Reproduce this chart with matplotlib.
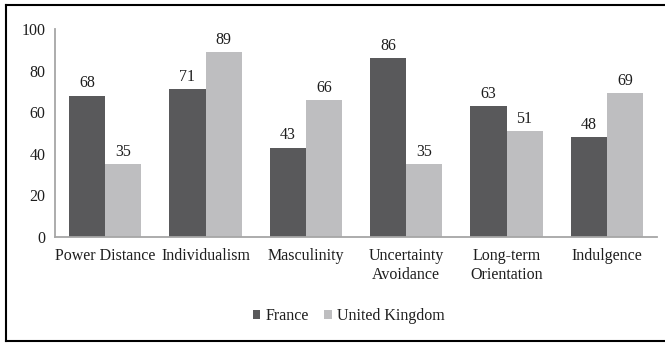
import matplotlib
matplotlib.use("Agg")
import matplotlib.pyplot as plt
from matplotlib.lines import Line2D
import numpy as np

categories = ["Power Distance", "Individualism", "Masculinity",
              "Uncertainty\nAvoidance", "Long-term\nOrientation", "Indulgence"]
france = [68, 71, 43, 86, 63, 48]
uk = [35, 89, 66, 35, 51, 69]
yticks = [0, 20, 40, 60, 80, 100]

plt.rcParams["font.family"] = ["Liberation Serif", "DejaVu Serif"]
fs = 11.5
W, H = 665, 343

fig = plt.figure(figsize=(W / 100, H / 100), dpi=100)
ax = fig.add_axes([55 / W, 1 - 237 / H, (657 - 55) / W, (237 - 29) / H])

x = np.arange(len(categories))
w = 0.36
dark = "#59595b"
light = "#bebec0"
b1 = ax.bar(x - w / 2, france, w, color=dark, label="France")
b2 = ax.bar(x + w / 2, uk, w, color=light, label="United Kingdom")

# value labels above bars
for bars, vals in [(b1, france), (b2, uk)]:
    for r, v in zip(bars, vals):
        ax.annotate(str(v), (r.get_x() + r.get_width() / 2, v),
                    xytext=(0, 3), textcoords="offset points",
                    ha="center", va="bottom", fontsize=fs, color="#1e1e1e")

ax.set_xlim(-0.5, len(categories) - 0.5)
ax.set_ylim(0, 100)
ax.set_yticks(yticks)
ax.set_xticks(x)
ax.set_xticklabels(categories, fontsize=fs, color="#1e1e1e", linespacing=1.25)
ax.tick_params(axis="y", length=0, pad=7, labelsize=fs, labelcolor="#1e1e1e")
ax.tick_params(axis="x", length=0, pad=8)
for s in ["top", "right"]:
    ax.spines[s].set_visible(False)
for s in ["left", "bottom"]:
    ax.spines[s].set_color("#a6a6a6")
    ax.spines[s].set_linewidth(1.3)

fig.legend(loc="center", bbox_to_anchor=(349 / W, 1 - 316 / H), ncol=2,
           frameon=False, fontsize=fs, handlelength=0.45, handleheight=0.45,
           handletextpad=0.35, columnspacing=0.95, labelcolor="#1e1e1e")

# border (top, left, bottom)
lw = 1.5
fig.add_artist(Line2D([6 / W, 1.0], [1 - 5 / H, 1 - 5 / H], transform=fig.transFigure, color="black", lw=lw))
fig.add_artist(Line2D([6 / W, 6 / W], [1 - 5 / H, 1 - 341 / H], transform=fig.transFigure, color="black", lw=lw))
fig.add_artist(Line2D([6 / W, 1.0], [1 - 341 / H, 1 - 341 / H], transform=fig.transFigure, color="black", lw=lw))

fig.savefig("out.png", dpi=100)
